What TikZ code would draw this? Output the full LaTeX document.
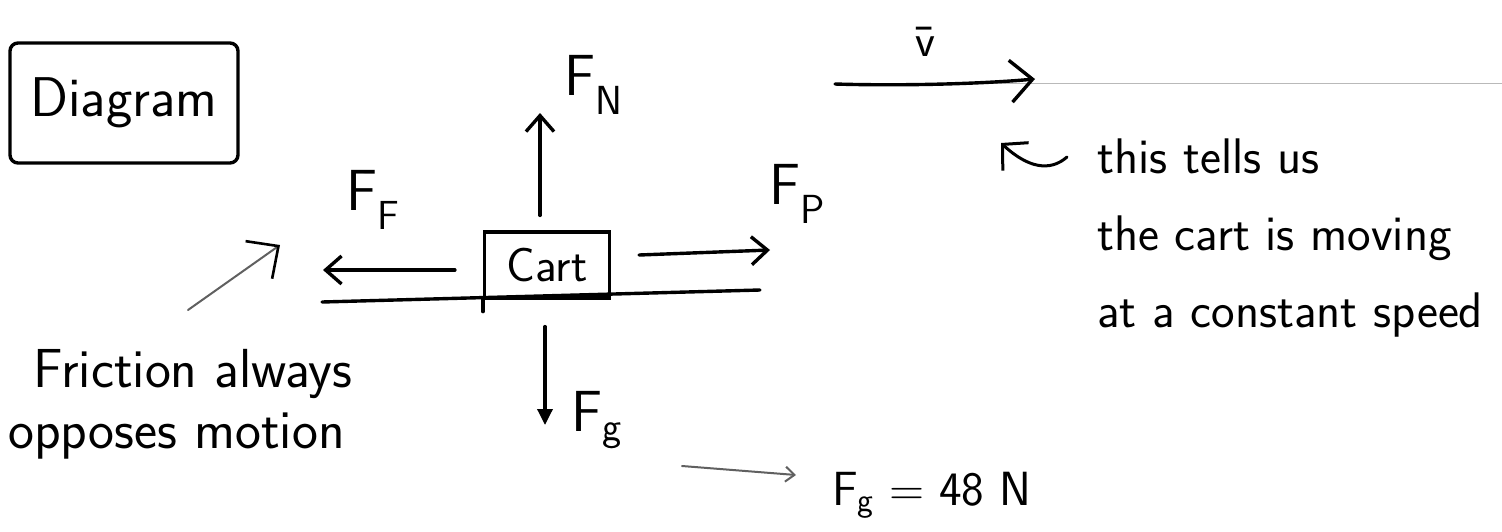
\documentclass[tikz,border=0pt]{standalone}
\usetikzlibrary{arrows.meta}
\renewcommand{\familydefault}{\sfdefault}
\tikzset{
fbbox/.style={rectangle,draw,line width=3.4pt,rounded corners=8pt,inner sep=0pt,font=\fontsize{56}{60}\selectfont},
fbcart/.style={rectangle,draw,line width=3.2pt,inner sep=0pt,minimum width=125pt,minimum height=66pt,font=\fontsize{48}{52}\selectfont},
fblabel/.style={inner sep=0pt,font=\fontsize{58}{60}\selectfont},
fbnote/.style={inner sep=0pt,align=left,anchor=base west,font=\fontsize{50}{77}\selectfont},
fbline/.style={line width=3.4pt,line cap=round},
fbforce/.style={fbline,-{Straight Barb[length=16pt,width=28pt]}},
fbfall/.style={fbline,-{Triangle[length=16pt,width=15pt]}},
fbvel/.style={fbline,-{Straight Barb[length=22pt,width=42pt]}},
fbhook/.style={line width=3pt,line cap=round,-{Straight Barb[length=18pt,width=38pt]}},
fbpointer/.style={line width=2pt,line cap=round,gray!75!black,-{Straight Barb[length=24pt,width=46pt,black,line width=2.6pt]}},
fbthin/.style={line width=2pt,line cap=round,gray!75!black,-{Straight Barb[length=9pt,width=15pt]}},
fbrule/.style={line width=1pt,gray!55}
}

\begin{document}
\begin{tikzpicture}[
x=1pt,
y=-1pt
]
\useasboundingbox (0,0) rectangle (1502,531);
\node[fbbox,minimum width=228pt,minimum height=120pt]
  (diagram) at (124,103) {Diagram};
\node[fbcart] (cart) at (547,265) {Cart};
\node[fblabel] (fn) at (594,85) {F\textsubscript{N}};
\node[fblabel] (ff) at (373,200) {F\textsubscript{F}};
\node[fblabel] (fp) at (797,194) {F\textsubscript{P}};
\node[fblabel] (fg) at (597,420) {F\textsubscript{g}};
\node[fbnote,font=\fontsize{48}{52}\selectfont] (fgvalue) at (832,505) {F\textsubscript{g} = 48 N};
\node[fblabel,font=\fontsize{46}{50}\selectfont] (vel) at (925,42) {\={v}};
\node[fbnote,font=\fontsize{55}{61}\selectfont] (fricnote) at (8,448) {\hspace*{25pt}Friction always\\opposes motion};
\node[fbnote] (movenote) at (1097,327) {this tells us\\the cart is moving\\at a constant speed};
\coordinate (groundL) at (322,302);
\coordinate (groundR) at (760,290);
\coordinate (ntip) at (540,113);
\coordinate (ftip) at (323,270);
\coordinate (ptip) at (770,250);
\coordinate (gtip) at (545,425);
\coordinate (vtail) at (835,84);
\coordinate (vtip) at (1035,79);
\coordinate (ruleL) at (985,83);
\coordinate (ruleR) at (1502,83);
\coordinate (hookstart) at (1067,157);
\coordinate (hooktip) at (1001,143);
\coordinate (fricfoot) at (188,310);
\coordinate (frictip) at (280,245);
\coordinate (fgfoot) at (682,466);
\coordinate (fgtip) at (796,475);
\draw[fbline] (groundL) -- (groundR);
\draw[fbline] (cart.south west) -- ++(0,12);
\draw[fbforce] ([xshift=-7pt,yshift=15pt]cart.north) -- (ntip);
\draw[fbforce] ([xshift=-28pt,yshift=-5pt]cart.west) -- (ftip);
\draw[fbforce] ([xshift=28pt,yshift=10pt]cart.east) -- (ptip);
\draw[fbfall] ([xshift=-2pt,yshift=-27pt]cart.south) -- (gtip);
\draw[fbrule] (ruleL) -- (ruleR);
\draw[fbvel] (vtail) .. controls (900,86) and (980,84) .. (vtip);
\draw[fbhook] (hookstart) .. controls (1050,172) and (1028,168) .. (hooktip);
\draw[fbpointer] (fricfoot) -- (frictip);
\draw[fbthin] (fgfoot) -- (fgtip);
\end{tikzpicture}
\end{document}
